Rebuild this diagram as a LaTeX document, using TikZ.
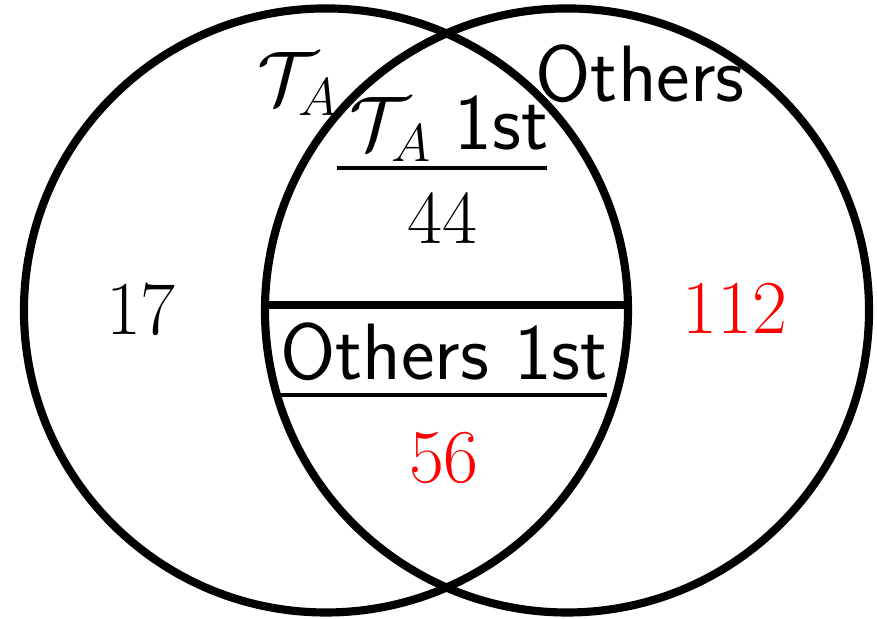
\documentclass[tikz,border=0pt]{standalone}
\usepackage{fix-cm}
\newcommand{\sftxt}[1]{{\fontsize{22.6}{27}\selectfont\textsf{#1}}}

\begin{document}
\begin{tikzpicture}[every node/.style={font=\fontsize{21.5}{26}\selectfont}]
        \useasboundingbox (-4.435,-3.064) rectangle (4.276,3.084);
        \node[circle,draw,line width=2.3pt,minimum size=6cm] (tset) at (-1.197,0) {};
        \node[circle,draw,line width=2.3pt,minimum size=6cm] (oset) at (1.197,0) {};
        \draw[line width=2.3pt] ([yshift=1.56pt]oset.west) -- ([yshift=1.56pt]tset.east);

        \node[anchor=base] (tlabel) at (-1.47,2.05) {$\mathcal{T}_A$};
        \node[anchor=base] (olabel) at (1.922,2.071) {\sftxt{Others}};

        \node[anchor=base] (tfirst) at (0.025,1.594) {$\mathcal{T}_A$ \sftxt{1st}};
        \draw[line width=0.9pt] (-1.088,1.415) -- (0.998,1.415);
        \node[anchor=base] (both1) at (-0.04,0.67) {$44$};

        \node[anchor=base] (ofirst) at (-0.025,-0.69) {\sftxt{Others 1st}};
        \draw[line width=0.9pt] (-1.674,-0.839) -- (1.594,-0.839);
        \node[anchor=base,red] (both2) at (-0.025,-1.704) {$56$};

        \node[anchor=base] (tonly) at (-3.035,-0.243) {$17$};
        \node[anchor=base,red] (oonly) at (2.866,-0.233) {$112$};
\end{tikzpicture}
\end{document}
